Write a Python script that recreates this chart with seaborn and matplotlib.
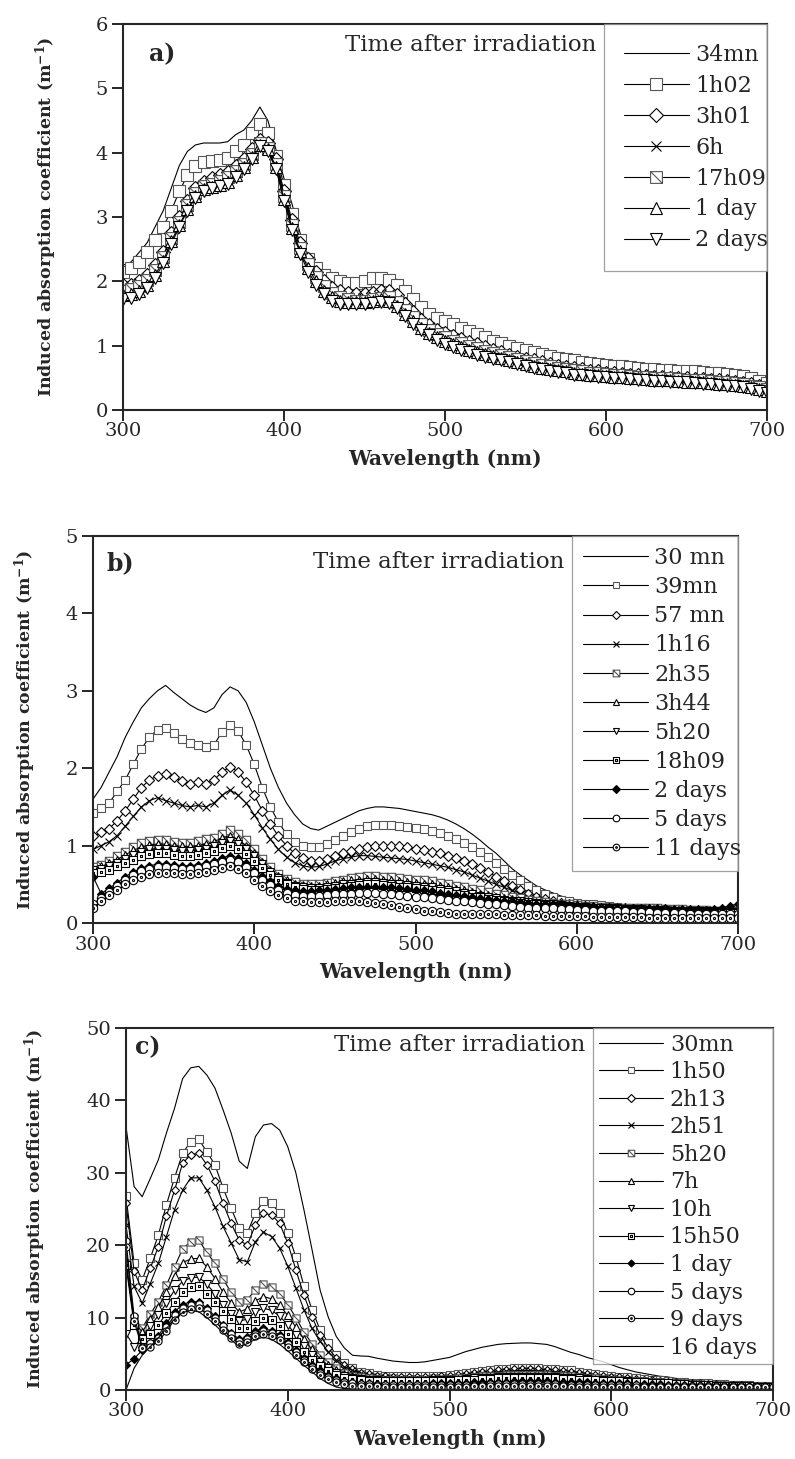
import numpy as np
import seaborn as sns
import matplotlib.pyplot as plt
from matplotlib.path import Path

wavelength = np.arange(300, 701, 5)

# ============ panel a ============
a_labels = ['34mn', '1h02', '3h01', '6h', '17h09', '1 day', '2 days']
a_34mn = [2.25, 2.3, 2.45, 2.6, 2.85, 3.1, 3.45, 3.8, 4.02, 4.12,
          4.15, 4.15, 4.15, 4.17, 4.28, 4.35, 4.5, 4.71, 4.5, 4.05,
          3.6, 3.2, 2.75, 2.4, 2.2, 2.1, 2.05, 2.0, 2.0, 2.0,
          2.02, 2.05, 2.08, 2.07, 2.03, 1.9, 1.72, 1.6, 1.5, 1.43,
          1.37, 1.31, 1.26, 1.21, 1.16, 1.11, 1.06, 1.02, 0.98, 0.95,
          0.92, 0.89, 0.86, 0.83, 0.8, 0.77, 0.75, 0.73, 0.71, 0.69,
          0.67, 0.65, 0.63, 0.62, 0.6, 0.59, 0.58, 0.57, 0.56, 0.55,
          0.54, 0.53, 0.52, 0.51, 0.5, 0.49, 0.48, 0.47, 0.45, 0.42,
          0.4]
a_1h02 = [2.15, 2.2, 2.3, 2.45, 2.65, 2.85, 3.1, 3.4, 3.65, 3.8,
          3.85, 3.87, 3.88, 3.92, 4.02, 4.12, 4.3, 4.45, 4.3, 3.95,
          3.5, 3.05, 2.65, 2.35, 2.2, 2.1, 2.05, 2.0, 1.98, 1.98,
          2.0, 2.05, 2.05, 2.02, 1.95, 1.85, 1.72, 1.6, 1.5, 1.43,
          1.38, 1.33, 1.28, 1.23, 1.18, 1.13, 1.08, 1.04, 1.0, 0.96,
          0.93, 0.9, 0.87, 0.84, 0.81, 0.79, 0.77, 0.75, 0.73, 0.71,
          0.7, 0.69, 0.68, 0.67, 0.65, 0.64, 0.63, 0.62, 0.62, 0.61,
          0.6, 0.6, 0.59, 0.58, 0.57, 0.56, 0.55, 0.53, 0.5, 0.45,
          0.42]
a_3h01 = [1.95, 1.95, 2.0, 2.1, 2.25, 2.45, 2.75, 3.0, 3.25, 3.45,
          3.55, 3.6, 3.65, 3.7, 3.8, 3.9, 4.05, 4.2, 4.15, 3.9,
          3.4, 2.95, 2.6, 2.35, 2.15, 2.0, 1.9, 1.85, 1.82, 1.8,
          1.8, 1.82, 1.85, 1.85, 1.78, 1.65, 1.52, 1.4, 1.32, 1.25,
          1.2, 1.15, 1.1, 1.06, 1.02, 0.98, 0.94, 0.9, 0.86, 0.83,
          0.8, 0.77, 0.74, 0.71, 0.69, 0.67, 0.65, 0.63, 0.61, 0.6,
          0.58, 0.57, 0.56, 0.55, 0.54, 0.53, 0.52, 0.51, 0.5, 0.5,
          0.49, 0.48, 0.48, 0.47, 0.46, 0.45, 0.44, 0.42, 0.4, 0.38,
          0.35]
a_6h = [1.9, 1.92, 1.97, 2.05, 2.2, 2.4, 2.7, 2.95, 3.2, 3.4,
        3.5, 3.55, 3.6, 3.65, 3.75, 3.85, 4.0, 4.15, 4.1, 3.85,
        3.35, 2.9, 2.55, 2.3, 2.1, 1.95, 1.85, 1.8, 1.76, 1.74,
        1.75, 1.77, 1.8, 1.8, 1.73, 1.6, 1.48, 1.37, 1.29, 1.22,
        1.17, 1.12, 1.07, 1.03, 0.99, 0.95, 0.91, 0.87, 0.84, 0.81,
        0.78, 0.75, 0.72, 0.7, 0.68, 0.66, 0.64, 0.62, 0.6, 0.59,
        0.57, 0.56, 0.55, 0.54, 0.53, 0.52, 0.51, 0.5, 0.5, 0.49,
        0.48, 0.48, 0.47, 0.46, 0.45, 0.44, 0.43, 0.41, 0.39, 0.36,
        0.33]
a_17h09 = [1.85, 1.88, 1.93, 2.02, 2.17, 2.38, 2.68, 2.92, 3.18, 3.38,
           3.48, 3.52, 3.56, 3.62, 3.72, 3.82, 3.98, 4.15, 4.08, 3.82,
           3.32, 2.88, 2.52, 2.27, 2.07, 1.93, 1.82, 1.76, 1.72, 1.7,
           1.7, 1.72, 1.74, 1.75, 1.68, 1.56, 1.44, 1.33, 1.25, 1.18,
           1.13, 1.08, 1.04, 1.0, 0.96, 0.92, 0.88, 0.85, 0.82, 0.79,
           0.76, 0.73, 0.7, 0.68, 0.66, 0.64, 0.62, 0.6, 0.58, 0.57,
           0.56, 0.55, 0.54, 0.53, 0.52, 0.51, 0.5, 0.49, 0.49, 0.48,
           0.47, 0.47, 0.46, 0.45, 0.44, 0.43, 0.42, 0.4, 0.38, 0.35,
           0.32]
a_1day = [1.78, 1.8, 1.85, 1.95, 2.1, 2.32, 2.62, 2.88, 3.12, 3.33,
          3.43, 3.47, 3.5, 3.55, 3.65, 3.77, 3.93, 4.12, 4.05, 3.78,
          3.28, 2.83, 2.47, 2.2, 2.0, 1.85, 1.75, 1.7, 1.68, 1.68,
          1.68, 1.7, 1.72, 1.7, 1.62, 1.5, 1.38, 1.28, 1.2, 1.13,
          1.07, 1.02, 0.98, 0.94, 0.9, 0.87, 0.84, 0.81, 0.78, 0.75,
          0.72, 0.69, 0.66, 0.64, 0.62, 0.6, 0.58, 0.56, 0.55, 0.54,
          0.53, 0.52, 0.51, 0.5, 0.49, 0.48, 0.47, 0.46, 0.46, 0.45,
          0.44, 0.44, 0.43, 0.42, 0.41, 0.4, 0.39, 0.37, 0.35, 0.32,
          0.29]
a_2days = [1.72, 1.74, 1.8, 1.9, 2.05, 2.28, 2.58, 2.85, 3.1, 3.3,
           3.4, 3.45, 3.48, 3.52, 3.62, 3.74, 3.9, 4.1, 4.02, 3.75,
           3.25, 2.8, 2.43, 2.15, 1.95, 1.8, 1.7, 1.65, 1.64, 1.64,
           1.64, 1.66, 1.68, 1.66, 1.58, 1.46, 1.34, 1.24, 1.16, 1.09,
           1.03, 0.98, 0.94, 0.9, 0.86, 0.83, 0.8, 0.77, 0.74, 0.71,
           0.68, 0.65, 0.63, 0.61, 0.59, 0.57, 0.55, 0.54, 0.53, 0.52,
           0.51, 0.5, 0.49, 0.48, 0.47, 0.46, 0.45, 0.45, 0.44, 0.43,
           0.43, 0.42, 0.41, 0.4, 0.39, 0.38, 0.37, 0.35, 0.33, 0.3,
           0.27]

# ============ panel b ============
b_labels = ['30 mn', '39mn', '57 mn', '1h16', '2h35', '3h44', '5h20',
            '18h09', '2 days', '5 days', '11 days']
b_30mn = [1.6, 1.75, 1.95, 2.15, 2.4, 2.6, 2.78, 2.9, 3.0, 3.07,
          2.98, 2.9, 2.82, 2.76, 2.72, 2.78, 2.95, 3.05, 3.0, 2.85,
          2.6, 2.3, 2.0, 1.75, 1.55, 1.4, 1.28, 1.22, 1.2, 1.25,
          1.3, 1.35, 1.4, 1.45, 1.48, 1.5, 1.5, 1.49, 1.48, 1.46,
          1.44, 1.42, 1.4, 1.37, 1.33, 1.28, 1.22, 1.15, 1.07, 0.98,
          0.9, 0.8, 0.7, 0.62, 0.55, 0.48, 0.43, 0.39, 0.35, 0.32,
          0.3, 0.28, 0.27, 0.26, 0.25, 0.24, 0.23, 0.22, 0.22, 0.21,
          0.21, 0.2, 0.2, 0.2, 0.19, 0.19, 0.18, 0.18, 0.18, 0.18,
          0.18]
b_39mn = [1.42, 1.48, 1.55, 1.7, 1.85, 2.05, 2.25, 2.4, 2.5, 2.52,
          2.45, 2.38, 2.32, 2.3, 2.28, 2.3, 2.47, 2.56, 2.48, 2.3,
          2.05, 1.75, 1.5, 1.3, 1.15, 1.05, 1.0, 0.98, 0.98, 1.02,
          1.07, 1.12, 1.17, 1.22, 1.25, 1.27, 1.27, 1.26, 1.25, 1.24,
          1.23, 1.21, 1.19, 1.16, 1.13, 1.09, 1.04, 0.98, 0.92, 0.85,
          0.78, 0.7, 0.62, 0.55, 0.48, 0.42, 0.37, 0.33, 0.3, 0.28,
          0.26, 0.25, 0.24, 0.23, 0.22, 0.21, 0.2, 0.2, 0.19, 0.19,
          0.18, 0.18, 0.17, 0.17, 0.17, 0.16, 0.16, 0.16, 0.15, 0.15,
          0.15]
b_57mn = [1.12, 1.17, 1.22, 1.32, 1.45, 1.6, 1.75, 1.85, 1.9, 1.92,
          1.88, 1.83, 1.8, 1.82, 1.8, 1.85, 1.95, 2.02, 1.95, 1.82,
          1.65, 1.45, 1.28, 1.12, 1.0, 0.9, 0.84, 0.8, 0.8, 0.83,
          0.87, 0.9, 0.93, 0.96, 0.98, 1.0, 1.0, 1.0, 0.99, 0.98,
          0.96, 0.94, 0.92, 0.9, 0.87, 0.84, 0.8, 0.76, 0.71, 0.66,
          0.6, 0.54, 0.48, 0.43, 0.38, 0.34, 0.31, 0.28, 0.26, 0.24,
          0.23, 0.22, 0.21, 0.2, 0.2, 0.19, 0.19, 0.18, 0.18, 0.17,
          0.17, 0.17, 0.16, 0.16, 0.16, 0.15, 0.15, 0.15, 0.14, 0.14,
          0.14]
b_1h16 = [0.95, 1.0, 1.05, 1.13, 1.25, 1.38, 1.5, 1.58, 1.62, 1.58,
          1.55, 1.52, 1.5, 1.52, 1.5, 1.55, 1.65, 1.72, 1.65, 1.55,
          1.4, 1.23, 1.08, 0.95, 0.85, 0.78, 0.74, 0.72, 0.73, 0.76,
          0.8, 0.83, 0.85, 0.87, 0.87, 0.86, 0.85, 0.84, 0.83, 0.82,
          0.8, 0.78, 0.76, 0.74, 0.72, 0.69, 0.66, 0.62, 0.58, 0.54,
          0.5, 0.46, 0.42, 0.38, 0.34, 0.31, 0.28, 0.26, 0.24, 0.22,
          0.21, 0.2, 0.2, 0.19, 0.19, 0.18, 0.18, 0.17, 0.17, 0.17,
          0.16, 0.16, 0.16, 0.15, 0.15, 0.15, 0.14, 0.14, 0.14, 0.14,
          0.14]
b_2h35 = [0.72, 0.75, 0.8, 0.86, 0.92, 0.98, 1.03, 1.06, 1.07, 1.07,
          1.05, 1.04, 1.04, 1.06, 1.08, 1.1, 1.15, 1.2, 1.15, 1.07,
          0.95, 0.83, 0.72, 0.63, 0.57, 0.53, 0.51, 0.5, 0.5, 0.52,
          0.54, 0.56, 0.58, 0.6, 0.61, 0.61, 0.6, 0.59, 0.58, 0.57,
          0.56, 0.55, 0.54, 0.52, 0.5, 0.48, 0.46, 0.44, 0.42, 0.4,
          0.38, 0.36, 0.34, 0.32, 0.3, 0.28, 0.27, 0.26, 0.25, 0.24,
          0.23, 0.22, 0.22, 0.21, 0.21, 0.2, 0.2, 0.2, 0.19, 0.19,
          0.19, 0.18, 0.18, 0.18, 0.17, 0.17, 0.17, 0.16, 0.16, 0.16,
          0.16]
b_3h44 = [0.7, 0.73, 0.77, 0.82, 0.88, 0.94, 0.98, 1.01, 1.02, 1.02,
          1.0, 0.99, 0.99, 1.0, 1.02, 1.05, 1.1, 1.13, 1.08, 1.0,
          0.9, 0.79, 0.69, 0.61, 0.55, 0.51, 0.49, 0.48, 0.48, 0.5,
          0.52, 0.54, 0.55, 0.56, 0.57, 0.57, 0.56, 0.55, 0.54, 0.53,
          0.52, 0.51, 0.5, 0.48, 0.46, 0.44, 0.42, 0.4, 0.38, 0.36,
          0.34, 0.32, 0.31, 0.29, 0.28, 0.27, 0.26, 0.25, 0.24, 0.23,
          0.22, 0.21, 0.21, 0.2, 0.2, 0.19, 0.19, 0.19, 0.18, 0.18,
          0.18, 0.17, 0.17, 0.17, 0.16, 0.16, 0.16, 0.15, 0.15, 0.15,
          0.15]
b_5h20 = [0.68, 0.7, 0.74, 0.78, 0.83, 0.88, 0.92, 0.95, 0.96, 0.96,
          0.94, 0.93, 0.93, 0.94, 0.96, 0.99, 1.03, 1.06, 1.02, 0.95,
          0.86, 0.76, 0.66, 0.58, 0.52, 0.48, 0.46, 0.45, 0.45, 0.46,
          0.48, 0.5, 0.51, 0.52, 0.53, 0.53, 0.52, 0.51, 0.5, 0.49,
          0.48, 0.47, 0.46, 0.44, 0.42, 0.41, 0.39, 0.37, 0.35, 0.33,
          0.32, 0.3, 0.29, 0.28, 0.27, 0.26, 0.25, 0.24, 0.23, 0.22,
          0.21, 0.21, 0.2, 0.2, 0.19, 0.19, 0.18, 0.18, 0.18, 0.17,
          0.17, 0.17, 0.16, 0.16, 0.16, 0.15, 0.15, 0.15, 0.14, 0.14,
          0.14]
b_18h09 = [0.65, 0.66, 0.69, 0.73, 0.78, 0.82, 0.86, 0.89, 0.9, 0.9,
           0.88, 0.87, 0.87, 0.88, 0.9, 0.93, 0.97, 1.0, 0.96, 0.89,
           0.8, 0.71, 0.62, 0.55, 0.5, 0.46, 0.44, 0.43, 0.43, 0.44,
           0.45, 0.47, 0.48, 0.49, 0.5, 0.5, 0.49, 0.48, 0.47, 0.46,
           0.45, 0.44, 0.43, 0.41, 0.4, 0.38, 0.36, 0.34, 0.33, 0.31,
           0.3, 0.28, 0.27, 0.26, 0.25, 0.24, 0.23, 0.22, 0.22, 0.21,
           0.2, 0.2, 0.19, 0.19, 0.18, 0.18, 0.17, 0.17, 0.17, 0.16,
           0.16, 0.16, 0.15, 0.15, 0.15, 0.14, 0.14, 0.14, 0.14, 0.13,
           0.13]
b_2days = [0.6, 0.38, 0.45, 0.52, 0.6, 0.66, 0.71, 0.74, 0.76, 0.76,
           0.75, 0.74, 0.74, 0.75, 0.77, 0.8, 0.84, 0.87, 0.84, 0.77,
           0.69, 0.61, 0.54, 0.48, 0.44, 0.42, 0.41, 0.41, 0.42, 0.43,
           0.44, 0.45, 0.46, 0.47, 0.47, 0.47, 0.46, 0.46, 0.45, 0.44,
           0.43, 0.42, 0.41, 0.39, 0.38, 0.36, 0.35, 0.33, 0.32, 0.31,
           0.3, 0.29, 0.28, 0.27, 0.26, 0.25, 0.25, 0.24, 0.24, 0.23,
           0.23, 0.22, 0.22, 0.21, 0.21, 0.2, 0.2, 0.2, 0.19, 0.19,
           0.19, 0.19, 0.18, 0.18, 0.18, 0.18, 0.17, 0.18, 0.2, 0.22,
           0.25]
b_5days = [0.25, 0.32, 0.4, 0.48, 0.56, 0.62, 0.67, 0.7, 0.72, 0.72,
           0.71, 0.7, 0.7, 0.71, 0.73, 0.76, 0.79, 0.82, 0.79, 0.72,
           0.64, 0.56, 0.49, 0.43, 0.39, 0.36, 0.35, 0.35, 0.35, 0.36,
           0.37, 0.38, 0.38, 0.39, 0.39, 0.39, 0.38, 0.37, 0.36, 0.35,
           0.34, 0.33, 0.32, 0.31, 0.3, 0.29, 0.28, 0.27, 0.26, 0.25,
           0.24, 0.23, 0.22, 0.21, 0.2, 0.2, 0.19, 0.19, 0.18, 0.18,
           0.17, 0.17, 0.16, 0.16, 0.15, 0.15, 0.15, 0.14, 0.14, 0.14,
           0.13, 0.13, 0.13, 0.13, 0.12, 0.12, 0.12, 0.12, 0.11, 0.11,
           0.11]
b_11days = [0.2, 0.28, 0.36, 0.43, 0.5, 0.55, 0.6, 0.63, 0.65, 0.65,
            0.64, 0.63, 0.63, 0.64, 0.66, 0.68, 0.71, 0.73, 0.7, 0.64,
            0.56, 0.48, 0.41, 0.36, 0.32, 0.29, 0.28, 0.27, 0.27, 0.27,
            0.28, 0.28, 0.28, 0.28, 0.27, 0.26, 0.25, 0.23, 0.21, 0.2,
            0.18, 0.16, 0.15, 0.14, 0.13, 0.12, 0.12, 0.12, 0.11, 0.11,
            0.11, 0.1, 0.1, 0.1, 0.1, 0.1, 0.09, 0.09, 0.09, 0.09,
            0.09, 0.09, 0.08, 0.08, 0.08, 0.08, 0.08, 0.08, 0.08, 0.07,
            0.07, 0.07, 0.07, 0.07, 0.07, 0.07, 0.07, 0.07, 0.06, 0.06,
            0.06]

# ============ panel c ============
c_labels = ['30mn', '1h50', '2h13', '2h51', '5h20', '7h', '10h', '15h50',
            '1 day', '5 days', '9 days', '16 days']
c_30mn = [36.4, 28.1, 26.7, 29.2, 31.8, 35.5, 38.9, 43.0, 44.5, 44.7,
          43.5, 41.7, 38.7, 35.5, 31.6, 30.6, 35.0, 36.6, 36.8, 35.9,
          33.6, 30.0, 24.9, 19.4, 13.8, 10.1, 7.4, 5.8, 4.8, 4.7,
          4.65, 4.4, 4.2, 4.0, 3.9, 3.8, 3.8, 3.9, 4.1, 4.3,
          4.5, 4.9, 5.3, 5.6, 5.9, 6.1, 6.3, 6.4, 6.45, 6.5,
          6.5, 6.4, 6.3, 6.0, 5.6, 5.2, 4.9, 4.5, 4.2, 3.9,
          3.5, 3.1, 2.8, 2.5, 2.3, 2.1, 1.9, 1.8, 1.6, 1.5,
          1.4, 1.2, 1.0, 0.9, 0.8, 0.7, 0.65, 0.6, 0.55, 0.5,
          0.5]
c_1h50 = [26.8, 17.5, 15.2, 18.2, 21.4, 25.6, 29.3, 32.7, 34.3, 34.6,
          32.9, 31.1, 27.9, 25.1, 22.4, 21.7, 24.4, 26.1, 25.8, 24.4,
          21.7, 18.4, 14.4, 11.1, 8.3, 6.5, 4.8, 3.7, 3.0, 2.5,
          2.3, 2.1, 2.0, 1.95, 1.9, 1.9, 1.9, 1.9, 1.95, 2.0,
          2.05, 2.15, 2.3, 2.45, 2.6, 2.75, 2.85, 2.95, 3.0, 3.05,
          3.05, 3.0, 2.95, 2.9, 2.8, 2.7, 2.55, 2.4, 2.25, 2.1,
          1.95, 1.85, 1.75, 1.65, 1.55, 1.45, 1.35, 1.25, 1.15, 1.05,
          1.0, 0.95, 0.9, 0.85, 0.8, 0.75, 0.7, 0.65, 0.6, 0.55,
          0.5]
c_2h13 = [25.8, 16.4, 13.8, 16.8, 19.8, 24.0, 27.6, 31.3, 32.5, 32.7,
          31.1, 28.8, 25.8, 23.0, 20.7, 20.0, 22.8, 24.4, 24.2, 23.0,
          20.3, 16.6, 13.1, 10.1, 7.6, 5.8, 4.4, 3.5, 2.9, 2.4,
          2.2, 2.0, 1.9, 1.85, 1.8, 1.8, 1.8, 1.8, 1.85, 1.9,
          1.95, 2.05, 2.2, 2.35, 2.5, 2.6, 2.7, 2.8, 2.85, 2.9,
          2.9, 2.85, 2.8, 2.75, 2.65, 2.55, 2.4, 2.25, 2.1, 1.95,
          1.85, 1.75, 1.65, 1.55, 1.45, 1.35, 1.25, 1.15, 1.1, 1.0,
          0.95, 0.9, 0.85, 0.8, 0.75, 0.7, 0.65, 0.6, 0.55, 0.5,
          0.45]
c_2h51 = [22.8, 14.3, 12.0, 14.7, 17.5, 21.2, 24.9, 27.6, 29.3, 29.3,
          27.6, 25.3, 22.6, 20.3, 18.0, 17.7, 20.5, 21.8, 21.2, 19.6,
          17.1, 14.1, 11.1, 8.5, 6.7, 5.3, 4.1, 3.2, 2.7, 2.3,
          2.1, 1.9, 1.8, 1.75, 1.7, 1.7, 1.7, 1.7, 1.75, 1.8,
          1.85, 1.95, 2.05, 2.2, 2.3, 2.4, 2.5, 2.6, 2.65, 2.7,
          2.7, 2.65, 2.6, 2.55, 2.45, 2.35, 2.2, 2.1, 1.95, 1.85,
          1.75, 1.65, 1.55, 1.45, 1.35, 1.25, 1.2, 1.1, 1.05, 0.95,
          0.9, 0.85, 0.8, 0.75, 0.7, 0.65, 0.6, 0.55, 0.5, 0.45,
          0.4]
c_5h20 = [17.5, 10.0, 8.5, 10.5, 12.2, 14.5, 17.0, 19.5, 20.5, 20.7,
          19.0, 17.5, 15.3, 13.5, 12.2, 12.5, 13.8, 14.6, 14.2, 13.3,
          11.8, 10.0, 8.0, 6.4, 4.9, 3.8, 3.0, 2.4, 2.0, 1.8,
          1.6, 1.5, 1.45, 1.4, 1.4, 1.4, 1.4, 1.4, 1.45, 1.5,
          1.55, 1.6, 1.7, 1.8, 1.9, 1.95, 2.0, 2.05, 2.1, 2.1,
          2.1, 2.1, 2.05, 2.0, 1.95, 1.9, 1.8, 1.7, 1.6, 1.5,
          1.4, 1.35, 1.3, 1.25, 1.2, 1.1, 1.05, 1.0, 0.95, 0.9,
          0.85, 0.8, 0.75, 0.7, 0.65, 0.6, 0.55, 0.5, 0.5, 0.45,
          0.4]
c_7h = [17.8, 9.5, 8.0, 9.8, 11.5, 13.5, 15.8, 17.6, 18.1, 18.2,
        17.0, 15.4, 13.5, 12.0, 10.8, 11.2, 12.3, 12.9, 12.6, 11.7,
        10.3, 8.7, 7.0, 5.6, 4.3, 3.4, 2.7, 2.2, 1.9, 1.7,
        1.5, 1.45, 1.4, 1.35, 1.35, 1.35, 1.35, 1.35, 1.4, 1.45,
        1.5, 1.55, 1.6, 1.7, 1.75, 1.8, 1.85, 1.9, 1.95, 1.95,
        1.95, 1.95, 1.9, 1.85, 1.8, 1.75, 1.7, 1.6, 1.5, 1.4,
        1.35, 1.3, 1.25, 1.2, 1.15, 1.05, 1.0, 0.95, 0.9, 0.85,
        0.8, 0.75, 0.7, 0.65, 0.6, 0.55, 0.55, 0.5, 0.45, 0.45,
        0.4]
c_10h = [7.8, 6.0, 7.2, 8.8, 10.3, 12.0, 13.8, 15.0, 15.5, 15.6,
         14.6, 13.3, 11.8, 10.5, 9.5, 9.8, 10.8, 11.3, 11.0, 10.2,
         9.0, 7.6, 6.1, 4.9, 3.8, 3.0, 2.4, 2.0, 1.7, 1.5,
         1.4, 1.35, 1.3, 1.3, 1.3, 1.3, 1.3, 1.3, 1.35, 1.4,
         1.4, 1.45, 1.5, 1.6, 1.65, 1.7, 1.75, 1.8, 1.8, 1.85,
         1.85, 1.85, 1.8, 1.75, 1.7, 1.65, 1.6, 1.5, 1.45, 1.35,
         1.3, 1.25, 1.2, 1.15, 1.1, 1.0, 0.95, 0.9, 0.85, 0.8,
         0.75, 0.7, 0.65, 0.6, 0.6, 0.55, 0.5, 0.5, 0.45, 0.4,
         0.4]
c_15h50 = [17.3, 9.0, 7.0, 7.8, 9.0, 10.6, 12.2, 13.5, 14.2, 14.3,
           13.3, 12.1, 10.9, 9.8, 8.5, 8.5, 9.5, 9.9, 9.6, 8.9,
           7.8, 6.6, 5.3, 4.2, 3.3, 2.6, 2.1, 1.7, 1.5, 1.4,
           1.3, 1.25, 1.2, 1.2, 1.2, 1.2, 1.2, 1.2, 1.25, 1.3,
           1.3, 1.35, 1.4, 1.45, 1.5, 1.55, 1.6, 1.6, 1.65, 1.65,
           1.65, 1.65, 1.6, 1.6, 1.55, 1.5, 1.45, 1.4, 1.35, 1.3,
           1.25, 1.2, 1.15, 1.1, 1.05, 1.0, 0.95, 0.9, 0.85, 0.8,
           0.75, 0.7, 0.65, 0.6, 0.55, 0.55, 0.5, 0.5, 0.45, 0.4,
           0.4]
c_1day = [3.5, 4.3, 5.5, 6.5, 7.5, 9.2, 10.8, 11.8, 12.2, 12.2,
          11.3, 10.2, 9.0, 7.9, 7.0, 7.3, 8.2, 8.5, 8.2, 7.6,
          6.6, 5.5, 4.4, 3.5, 2.7, 2.1, 1.6, 1.3, 1.1, 1.0,
          0.9, 0.85, 0.85, 0.85, 0.85, 0.85, 0.85, 0.85, 0.9, 0.9,
          0.95, 1.0, 1.0, 1.05, 1.1, 1.1, 1.15, 1.15, 1.2, 1.2,
          1.2, 1.2, 1.2, 1.15, 1.15, 1.1, 1.1, 1.05, 1.0, 1.0,
          0.95, 0.9, 0.9, 0.85, 0.85, 0.8, 0.8, 0.75, 0.75, 0.7,
          0.7, 0.65, 0.65, 0.6, 0.6, 0.55, 0.55, 0.5, 0.5, 0.45,
          0.45]
c_5days = [20.6, 10.2, 6.0, 6.5, 7.2, 8.7, 10.3, 11.3, 11.8, 11.9,
           11.0, 10.0, 8.8, 7.7, 6.8, 7.0, 7.8, 8.2, 7.9, 7.3,
           6.3, 5.2, 4.1, 3.2, 2.4, 1.8, 1.4, 1.1, 0.9, 0.85,
           0.8, 0.75, 0.7, 0.7, 0.7, 0.7, 0.7, 0.7, 0.7, 0.7,
           0.7, 0.7, 0.75, 0.75, 0.75, 0.8, 0.8, 0.8, 0.8, 0.8,
           0.8, 0.8, 0.8, 0.8, 0.75, 0.75, 0.75, 0.7, 0.7, 0.7,
           0.7, 0.65, 0.65, 0.65, 0.6, 0.6, 0.6, 0.6, 0.55, 0.55,
           0.55, 0.55, 0.5, 0.5, 0.5, 0.5, 0.5, 0.45, 0.45, 0.45,
           0.45]
c_9days = [19.7, 9.5, 5.8, 6.0, 6.7, 8.1, 9.7, 10.8, 11.2, 11.3,
           10.5, 9.5, 8.3, 7.2, 6.4, 6.6, 7.4, 7.8, 7.5, 6.9,
           6.0, 4.9, 3.8, 2.9, 2.1, 1.5, 1.1, 0.8, 0.6, 0.55,
           0.5, 0.5, 0.45, 0.45, 0.45, 0.45, 0.45, 0.45, 0.45, 0.45,
           0.45, 0.45, 0.45, 0.5, 0.5, 0.5, 0.5, 0.5, 0.5, 0.5,
           0.5, 0.5, 0.5, 0.5, 0.5, 0.45, 0.45, 0.45, 0.45, 0.45,
           0.45, 0.45, 0.45, 0.4, 0.4, 0.4, 0.4, 0.4, 0.4, 0.4,
           0.4, 0.4, 0.35, 0.35, 0.35, 0.35, 0.35, 0.35, 0.35, 0.35,
           0.35]
c_16days = [0.0, 3.0, 4.8, 6.0, 7.2, 8.5, 9.8, 10.7, 11.0, 10.8,
            10.0, 9.0, 7.9, 6.9, 6.0, 6.4, 7.0, 7.3, 7.0, 6.3,
            5.4, 4.4, 3.4, 2.5, 1.6, 0.9, 0.4, 0.2, 0.15, 0.1,
            0.1, 0.1, 0.1, 0.1, 0.1, 0.1, 0.1, 0.1, 0.1, 0.1,
            0.1, 0.1, 0.1, 0.1, 0.1, 0.1, 0.1, 0.1, 0.1, 0.1,
            0.1, 0.1, 0.1, 0.1, 0.1, 0.1, 0.1, 0.1, 0.1, 0.1,
            0.1, 0.1, 0.1, 0.1, 0.1, 0.1, 0.1, 0.1, 0.1, 0.1,
            0.1, 0.1, 0.1, 0.1, 0.1, 0.1, 0.1, 0.1, 0.1, 0.1,
            0.1]


# ============ markers ============
_sq = Path([(-1, -1), (1, -1), (1, 1), (-1, 1), (-1, -1)],
           [Path.MOVETO, Path.LINETO, Path.LINETO, Path.LINETO, Path.CLOSEPOLY])
_small = Path([(-.2, -.2), (.2, -.2), (.2, .2), (-.2, .2), (-.2, -.2)],
              [Path.MOVETO, Path.LINETO, Path.LINETO, Path.LINETO, Path.CLOSEPOLY])
sq_diag = Path.make_compound_path(_sq, Path([(-1, 1), (1, -1)], [Path.MOVETO, Path.LINETO]))
sq_dot = Path.make_compound_path(_sq, _small)
circ_dot = Path.make_compound_path(Path.circle((0, 0), 1), Path.circle((0, 0), 0.25))

GREY = '#555555'
# (marker, face, edge, size factor)
line_only = ('None', 'none', 'black', 1)
square = ('s', 'white', GREY, 1)
diamond = ('D', 'white', 'black', 0.8)
cross = ('x', 'none', 'black', 0.9)
sqdiag = (sq_diag, 'white', GREY, 1)
tri_up = ('^', 'white', 'black', 1)
tri_dn = ('v', 'white', 'black', 1)
sqdot = (sq_dot, 'white', 'black', 1)
diam_full = ('D', 'black', 'black', 0.75)
circle = ('o', 'white', 'black', 1)
circdot = (circ_dot, 'white', 'black', 1)

sns.set_theme(style='ticks')
plt.rcParams['font.family'] = ['DejaVu Serif']
plt.rcParams['mathtext.fontset'] = 'dejavuserif'

W, H = 795, 1459
fig = plt.figure(figsize=(W / 100, H / 100), dpi=100)


def add_ax(left, right, top, bottom):
    return fig.add_axes([left / W, 1 - bottom / H, (right - left) / W, (bottom - top) / H])


def draw_panel(ax, series, labels, styles, ms, ymax, ystep, tag, leg_x0, text_y,
               tag_xy, labelspacing, borderpad, markerscale, ylab_x, ax_h):
    for y, lab, (mk, fc, ec, sc) in zip(series, labels, styles):
        sns.lineplot(x=wavelength, y=y, ax=ax, color='black', linewidth=0.8,
                     marker=mk, markersize=ms * sc, mfc=fc, mec=ec, mew=0.8,
                     label=lab, estimator=None)
    ax.set_xlim(300, 700)
    ax.set_ylim(0, ymax)
    ax.set_xticks([300, 400, 500, 600, 700])
    ax.set_yticks(np.arange(0, ymax + 0.1, ystep))
    for s in ax.spines.values():
        s.set_linewidth(1.5)
        s.set_visible(True)
    ax.tick_params(axis='both', direction='out', length=8, width=1.4, labelsize=14)
    ax.tick_params(axis='x', pad=1)
    ax.tick_params(axis='y', pad=3)
    ax.set_xlabel('Wavelength (nm)', fontsize=14.5, fontweight='bold')
    ax.xaxis.set_label_coords(0.5, -39 / ax_h)
    ax.set_ylabel(r'Induced absorption coefficient (m$^{\mathbf{-1}}$)',
                  fontsize=12.5, fontweight='bold')
    ax.yaxis.set_label_coords(ylab_x, 0.5)
    leg = ax.legend(loc='upper left', bbox_to_anchor=(leg_x0, 0., 1 - leg_x0, 1.),
                    mode='expand', borderaxespad=0, frameon=True, fancybox=False,
                    edgecolor='#888888', handlelength=2.9, handletextpad=0.3,
                    labelspacing=labelspacing, borderpad=borderpad, numpoints=1,
                    fontsize=16, markerscale=markerscale)
    leg.get_frame().set_linewidth(0.9)
    ax.text(leg_x0 - 0.012, text_y, 'Time after irradiation', transform=ax.transAxes,
            ha='right', va='center', fontsize=16.5)
    ax.text(tag_xy[0], tag_xy[1], tag, transform=ax.transAxes, ha='center',
            va='center', fontsize=17, fontweight='bold')


ax_a = add_ax(123, 767, 24, 410)
draw_panel(ax_a, [a_34mn, a_1h02, a_3h01, a_6h, a_17h09, a_1day, a_2days], a_labels,
           [line_only, square, diamond, cross, sqdiag, tri_up, tri_dn],
           ms=8.5, ymax=6, ystep=1, tag='a)', leg_x0=0.747, text_y=0.946,
           tag_xy=(0.061, 0.922), labelspacing=0.4, borderpad=0.9, markerscale=1.0,
           ylab_x=-0.10, ax_h=386)

ax_b = add_ax(93, 738, 536, 923)
draw_panel(ax_b, [b_30mn, b_39mn, b_57mn, b_1h16, b_2h35, b_3h44, b_5h20, b_18h09,
                  b_2days, b_5days, b_11days], b_labels,
           [line_only, square, diamond, cross, sqdiag, tri_up, tri_dn, sqdot,
            diam_full, circle, circdot],
           ms=6, ymax=5, ystep=1, tag='b)', leg_x0=0.743, text_y=0.933,
           tag_xy=(0.043, 0.930), labelspacing=0.32, borderpad=0.5, markerscale=0.8,
           ylab_x=-0.085, ax_h=387)

ax_c = add_ax(126, 773, 1028, 1390)
draw_panel(ax_c, [c_30mn, c_1h50, c_2h13, c_2h51, c_5h20, c_7h, c_10h, c_15h50,
                  c_1day, c_5days, c_9days, c_16days], c_labels,
           [line_only, square, diamond, cross, sqdiag, tri_up, tri_dn, sqdot,
            diam_full, circle, circdot, line_only],
           ms=5.2, ymax=50, ystep=10, tag='c)', leg_x0=0.722, text_y=0.953,
           tag_xy=(0.034, 0.947), labelspacing=0.25, borderpad=0.25, markerscale=0.9,
           ylab_x=-0.12, ax_h=362)

fig.savefig('out.png', dpi=100)
